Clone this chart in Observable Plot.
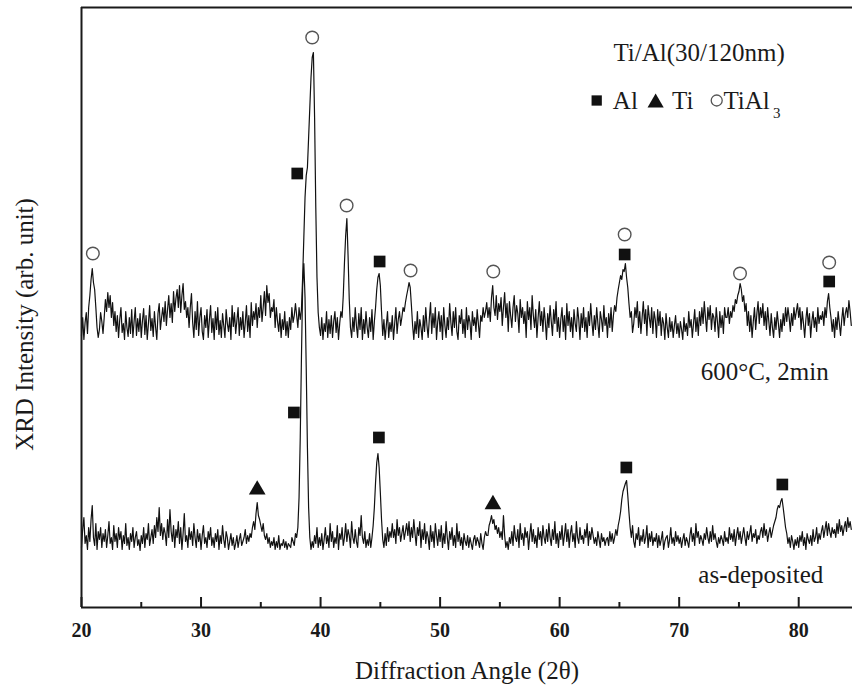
<!DOCTYPE html>
<html><head><meta charset="utf-8">
<script src="https://cdn.jsdelivr.net/npm/d3@7"></script>
<script src="https://cdn.jsdelivr.net/npm/@observablehq/plot@0.6"></script>
<style>body{margin:0;background:#fff}</style>
</head><body><div id="chart"></div>
<script>
// Sampling grid of the diffraction scans (2θ, degrees)
const angleStart = 20.0;
const angleStep = 0.1;

// 600°C, 2min scan (arbitrary intensity, already offset)
const annealed = [
272,290,268,285,295,274,300,312,328,339,
325,318,300,280,270,278,295,286,274,290,
308,296,315,300,312,290,305,282,296,276,
292,270,288,300,275,284,268,296,280,271,
290,274,298,270,286,300,272,289,276,294,
270,287,299,273,292,268,284,302,277,289,
271,296,280,268,294,304,278,290,300,286,
306,282,298,312,290,304,285,316,296,309,
318,300,322,295,312,324,298,306,290,300,
280,300,314,285,270,296,278,306,272,290,
300,276,268,292,280,298,270,288,302,275,
289,268,296,278,300,273,287,270,294,282,
270,298,284,276,290,268,302,281,295,274,
287,300,272,290,278,296,270,285,302,276,
292,270,305,282,296,288,304,280,300,290,
312,286,300,316,292,322,305,314,290,300,
296,308,280,300,286,276,294,270,288,278,
296,272,286,270,290,278,300,285,292,304,
292,280,300,288,298,330,370,410,432,440,
470,500,530,550,555,490,400,330,295,280,
272,290,268,284,276,296,270,288,274,292,
270,286,296,275,290,268,284,296,290,312,
345,372,389,352,308,280,270,290,276,300,
282,270,294,278,300,268,288,274,296,280,
270,290,276,298,268,286,300,318,330,334,
322,296,272,288,268,282,296,270,285,276,
292,268,284,300,274,288,296,282,290,300,
296,305,312,318,325,320,302,282,268,286,
274,296,270,288,280,268,292,276,300,282,
270,289,305,274,294,280,300,268,286,296,
276,292,268,300,282,270,290,278,304,285,
272,296,280,300,276,268,292,284,298,274,
288,270,300,278,292,285,268,296,282,290,
276,298,284,270,292,286,300,290,296,305,
290,300,286,310,322,300,292,312,288,304,
296,310,282,300,315,290,304,276,306,292,
280,300,312,286,302,294,275,308,290,300,
284,296,270,306,288,300,278,312,292,280,
298,270,290,306,282,296,276,300,286,268,
294,280,302,286,272,298,284,306,276,290,
270,288,300,276,292,268,304,282,296,276,
290,270,298,284,276,300,288,268,294,280,
300,276,290,270,296,282,304,286,272,292,
278,300,284,270,296,288,276,302,282,290,
270,294,280,300,276,292,302,296,310,318,
325,332,328,338,336,344,330,320,304,290,
296,275,284,300,290,306,280,296,274,290,
306,284,298,272,302,290,280,300,274,296,
288,270,298,282,296,272,290,284,268,294,
280,270,290,276,286,270,282,292,274,284,
270,286,278,268,290,276,284,272,296,280,
288,270,284,298,276,290,272,296,282,300,
284,306,290,276,300,288,302,278,294,290,
276,300,286,270,296,280,292,274,300,290,
290,300,284,296,290,302,296,308,304,312,
316,324,318,306,312,296,304,282,296,276,
292,270,286,300,278,294,306,284,300,290,
304,282,296,278,300,286,272,294,280,270,
290,278,296,284,270,288,276,294,282,300,
286,300,290,276,294,282,300,288,296,304,
290,300,278,296,284,270,288,300,282,294,
270,286,296,280,290,276,300,284,292,288,
296,282,300,290,306,314,300,290,276,288,
270,290,278,296,284,272,288,300,282,294,
300,290,307,296,282
];

// as-deposited scan
const asDeposited = [
60,78,90,64,72,58,80,66,88,102,
70,62,84,58,76,68,80,60,74,66,
78,60,72,86,64,70,58,82,66,74,
60,80,68,76,58,72,64,84,62,70,
58,74,66,80,60,70,76,62,68,57,
72,64,80,60,74,68,84,62,70,78,
64,82,70,90,76,100,72,84,68,80,
74,62,88,70,98,76,66,82,60,78,
70,86,64,80,58,74,94,66,72,60,
80,68,76,62,84,70,60,78,66,74,
58,72,82,64,70,60,76,68,80,62,
70,60,74,66,78,58,72,64,82,68,
60,76,70,58,66,74,62,70,58,64,
72,60,68,74,62,66,70,78,64,72,
66,74,70,80,86,78,94,105,92,88,
82,76,84,72,68,74,64,70,60,66,
62,70,58,66,60,72,58,64,62,68,
60,66,58,64,62,60,70,66,62,74,
70,80,110,170,250,320,344,310,240,160,
100,70,58,66,60,72,64,80,60,70,
62,74,58,68,80,64,72,60,84,66,
76,60,70,64,82,58,74,68,80,62,
70,84,66,78,72,60,86,70,64,78,
66,60,80,72,92,70,64,76,60,68,
62,74,60,70,82,100,125,145,154,140,
115,88,68,60,74,62,80,66,76,70,
84,70,78,64,88,72,80,66,74,82,
68,76,84,72,86,66,80,70,88,74,
62,80,72,86,60,78,68,84,64,76,
70,58,82,66,76,60,84,72,62,78,
66,82,60,74,64,86,70,58,76,68,
80,62,72,60,84,66,76,62,70,58,
74,66,62,72,60,70,64,58,68,72,
62,70,66,60,74,64,58,70,76,72,
72,82,86,92,84,88,78,82,74,80,
70,76,68,92,72,60,66,58,70,64,
76,62,82,70,66,78,60,84,68,74,
62,80,70,76,58,72,84,66,78,64,
72,60,80,68,76,62,82,70,64,78,
66,84,70,62,78,68,86,64,74,60,
76,68,82,62,72,84,66,78,60,74,
82,66,74,60,86,70,64,80,68,72,
64,78,70,84,62,76,68,80,72,64,
70,62,76,68,60,74,66,70,62,68,
70,62,76,66,74,64,70,78,72,82,
88,96,108,116,120,124,127,112,95,80,
70,82,66,60,74,68,80,62,72,66,
78,64,70,82,60,74,66,76,62,70,
66,74,60,72,62,68,76,58,66,70,
72,60,68,80,64,70,62,76,66,72,
64,70,60,68,74,62,70,66,60,72,
80,66,74,62,84,70,76,64,72,68,
62,74,68,80,70,64,76,66,82,68,
74,66,60,70,64,72,68,62,76,66,
70,64,80,68,74,66,78,62,72,80,
68,76,64,72,80,70,62,76,68,74,
82,66,74,70,78,64,72,68,76,80,
70,84,72,78,66,74,80,70,76,82,
86,90,98,102,100,106,109,100,90,80,
74,64,70,60,72,66,58,68,62,70,
60,72,66,76,62,70,58,74,68,64,
72,62,78,66,70,80,64,74,68,76,
82,70,78,86,72,84,76,70,80,74,
78,70,84,74,88,76,82,72,80,86,
76,90,80,86,78
];

// Phase identification markers
const markerPhase  = ["TiAl3","TiAl3","Al","TiAl3","Al","TiAl3","TiAl3","TiAl3","Al","TiAl3","TiAl3","Al",
                      "Ti","Al","Al","Ti","Al","Al"];
const markerAngle  = [20.95,39.3,38.05,42.18,44.94,47.53,54.45,65.44,65.44,75.09,82.55,82.55,
                      34.7,37.77,44.88,54.42,65.58,78.63];
const markerHeight = [354,570,434,402,346,337,336,373,353,334,345,326,
                      117.7,195,170,103,140,123];

// Legend
const legendPhase = ["Al","Ti","TiAl3"];
const legendLabel = ["Al","Ti","TiAl"];
const legendSymbolAngle = [63.1,68.03,73.14];
const legendSymbolHeight = [507,504.7,507];
const legendLabelAngle = [64.45,69.4,73.7];
const legendLabelHeight = 499;
const legendSub = "3";
const legendSubAngle = 77.85;
const legendSubHeight = 490;

// Annotations
const annoText = ["Ti/Al(30/120nm)","600°C, 2min","as-deposited"];
const annoAngle = [64.5,71.8,71.6];
const annoHeight = [547,228,25];

// Axis
const majorTicks = [20,30,40,50,60,70,80];
const minorTicks = [25,35,45,55,65,75];
const xLabel = "Diffraction Angle (2\u03B8)";
const yLabel = "XRD Intensity (arb. unit)";

const serif = "'Liberation Serif','Times New Roman',serif";
const ink = "#1a1a1a";

const rows = [
  ...annealed.map((v,i)=>({angle: angleStart + i*angleStep, h: v, s: "600°C, 2min"})),
  ...asDeposited.map((v,i)=>({angle: angleStart + i*angleStep, h: v, s: "as-deposited"}))
];
const markers = markerPhase.map((p,i)=>({phase:p, angle:markerAngle[i], h:markerHeight[i]}));
const legend = legendPhase.map((p,i)=>({phase:p, angle:legendSymbolAngle[i], h:legendSymbolHeight[i], label:legendLabel[i], la:legendLabelAngle[i]}));
const annos = annoText.map((t,i)=>({t, angle:annoAngle[i], h:annoHeight[i]}));

const chart = Plot.plot({
  width: 852, height: 685,
  marginLeft: 81, marginRight: 0, marginTop: 7, marginBottom: 78,
  style: {fontFamily: serif, color: ink, background: "#fff"},
  x: {domain: [20, 84.5]},
  y: {domain: [0, 600], axis: null},
  marks: [
    Plot.line(rows, {x:"angle", y:"h", z:"s", stroke:"#111", strokeWidth:1.2}),
    Plot.ruleY([0], {stroke: ink, strokeWidth: 2}),
    Plot.ruleY([600], {stroke: ink, strokeWidth: 2}),
    Plot.ruleX([20], {stroke: ink, strokeWidth: 2}),
    Plot.ruleX(majorTicks, {y1: 0, y2: 10, stroke: ink, strokeWidth: 2}),
    Plot.ruleX(minorTicks, {y1: 0, y2: 5, stroke: ink, strokeWidth: 2}),
    Plot.axisX({ticks: majorTicks, tickSize: 0, tickPadding: 15, label: null, tickFormat: d=>String(d), fontSize: 20, fontWeight: "bold", fontFamily: serif}),
    Plot.text([xLabel], {frameAnchor: "bottom", dy: 71, lineAnchor: "bottom", fontSize: 25, fontFamily: serif, fill: ink}),
    Plot.text([yLabel], {frameAnchor: "left", dx: -49, dy: 17, rotate: -90, textAnchor: "middle", lineAnchor: "bottom", fontSize: 25, fontFamily: serif, fill: ink}),
    Plot.dot(markers.filter(d=>d.phase==="Al"), {x:"angle", y:"h", symbol:"square", r:6.6, fill:"#111"}),
    Plot.dot(markers.filter(d=>d.phase==="Ti"), {x:"angle", y:"h", symbol:"triangle", r:6.2, fill:"#111"}),
    Plot.dot(markers.filter(d=>d.phase==="TiAl3"), {x:"angle", y:"h", r:6.3, fill:"white", stroke:"#555", strokeWidth:1.4}),
    Plot.dot(legend.filter(d=>d.phase==="Al"), {x:"angle", y:"h", symbol:"square", r:5.8, fill:"#111"}),
    Plot.dot(legend.filter(d=>d.phase==="Ti"), {x:"angle", y:"h", symbol:"triangle", r:6, fill:"#111"}),
    Plot.dot(legend.filter(d=>d.phase==="TiAl3"), {x:"angle", y:"h", r:5.5, fill:"white", stroke:"#555", strokeWidth:1.3}),
    Plot.text(legend, {x:"la", y:legendLabelHeight, text:"label", textAnchor:"start", lineAnchor:"bottom", fontSize:25, fontFamily: serif, fill: ink}),
    Plot.text([legendSub], {x: legendSubAngle, y: legendSubHeight, textAnchor:"start", lineAnchor:"bottom", fontSize:15, fontFamily: serif, fill: ink}),
    Plot.text(annos, {x:"angle", y:"h", text:"t", textAnchor:"start", lineAnchor:"bottom", fontSize:25, fontFamily: serif, fill: ink})
  ]
});
document.getElementById("chart").appendChild(chart);
d3.select(chart).selectAll('g[aria-label="x-axis tick label"] text').attr("font-weight","bold").attr("font-size","20px");
</script>
</body></html>
